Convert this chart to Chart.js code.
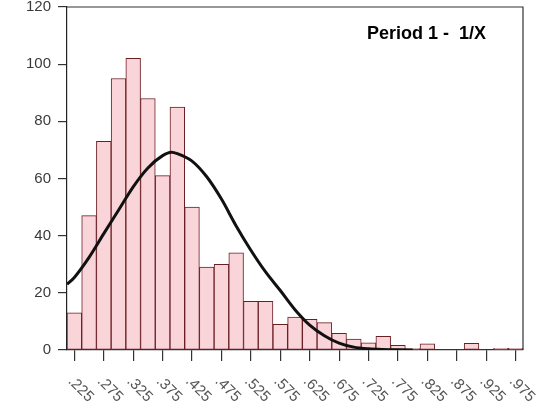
<!DOCTYPE html>
<html>
<head>
<meta charset="utf-8">
<script src="https://cdn.jsdelivr.net/npm/chart.js@4/dist/chart.umd.min.js"></script>
<style>
  html, body { margin: 0; padding: 0; background: #fff; }
  #wrap { width: 545px; height: 403px; position: relative; }
</style>
</head>
<body>
<div id="wrap"><canvas id="hist"></canvas></div>
<script>
// Histogram bins (centres) and counts
const BIN_CENTERS = [0.225, 0.25, 0.275, 0.30, 0.325, 0.35, 0.375, 0.40, 0.425, 0.45,
  0.475, 0.50, 0.525, 0.55, 0.575, 0.60, 0.625, 0.65, 0.675, 0.70,
  0.725, 0.75, 0.775, 0.80, 0.825, 0.85, 0.875, 0.90, 0.925, 0.95, 0.975];
const COUNTS = [13, 47, 73, 95, 102, 88, 61, 85, 50, 29,
  30, 34, 17, 17, 9, 11.5, 10.7, 9.6, 5.8, 3.8,
  2.5, 4.8, 1.6, 0.5, 2.2, 0, 0, 2.3, 0, 0.6, 0.6];

// Fitted curve
const CURVE_X = [0.2125, 0.225, 0.25, 0.275, 0.30, 0.325, 0.35, 0.375, 0.39, 0.40,
  0.425, 0.45, 0.475, 0.50, 0.525, 0.55, 0.575, 0.60, 0.625, 0.65,
  0.675, 0.70, 0.725, 0.75, 0.775, 0.80];
const CURVE_Y = [23, 25.4, 32.4, 40.7, 48.9, 57.1, 63.7, 68.0, 69.2, 68.7,
  66.1, 60.6, 52.8, 43.4, 34.9, 27.3, 20.8, 14.1, 8.7, 5.0,
  2.4, 1.0, 0.4, 0.15, 0.05, 0];

const X_TICKS = [0.225, 0.275, 0.325, 0.375, 0.425, 0.475, 0.525, 0.575,
  0.625, 0.675, 0.725, 0.775, 0.825, 0.875, 0.925, 0.975];
const X_LABELS = ['.225', '.275', '.325', '.375', '.425', '.475', '.525', '.575',
  '.625', '.675', '.725', '.775', '.825', '.875', '.925', '.975'];

const TITLE = 'Period 1 -  1/X';

const FONT = '"Liberation Sans", Arial, Helvetica, sans-serif';

// draws the box, the rotated x labels and the inset title
const decorations = {
  id: 'decorations',
  afterDraw(chart) {
    const { ctx, chartArea: a } = chart;
    const xs = chart.scales.x;
    ctx.save();

    // top / right frame
    ctx.strokeStyle = '#333';
    ctx.lineWidth = 1.2;
    ctx.beginPath();
    ctx.moveTo(a.left, a.top);
    ctx.lineTo(a.right, a.top);
    ctx.lineTo(a.right, a.bottom);
    ctx.stroke();

    // x labels, turned 45deg clockwise
    ctx.fillStyle = '#555';
    ctx.font = '15px ' + FONT;
    ctx.textAlign = 'left';
    ctx.textBaseline = 'middle';
    X_TICKS.forEach((v, i) => {
      const px = xs.getPixelForValue(v);
      ctx.save();
      ctx.translate(px - 4, a.bottom + 29);
      ctx.rotate(Math.PI / 4);
      ctx.fillText(X_LABELS[i], 0, 0);
      ctx.restore();
    });

    // title inside plot
    ctx.fillStyle = '#000';
    ctx.font = 'bold 18px ' + FONT;
    ctx.textAlign = 'left';
    ctx.textBaseline = 'alphabetic';
    ctx.fillText(TITLE, 367, 39);

    ctx.restore();
  }
};

new Chart(document.getElementById('hist'), {
  data: {
    datasets: [
      {
        type: 'line',
        order: 0,
        data: CURVE_X.map((x, i) => ({ x, y: CURVE_Y[i] })),
        borderColor: '#111',
        borderWidth: 3,
        pointRadius: 0,
        tension: 0.4,
        cubicInterpolationMode: 'monotone',
        fill: false,
      },
      {
        type: 'bar',
        order: 1,
        data: BIN_CENTERS.map((x, i) => ({ x, y: COUNTS[i] })),
        backgroundColor: '#f9d4d8',
        borderColor: '#6a1f25',
        borderWidth: 1,
        borderSkipped: false,
        barPercentage: 1,
        categoryPercentage: 1,
      },
    ],
  },
  options: {
    responsive: true,
    maintainAspectRatio: false,
    animation: false,
    layout: { padding: { top: 7, right: 22, left: 0, bottom: 0 } },
    plugins: {
      legend: { display: false },
      tooltip: { enabled: false },
    },
    scales: {
      x: {
        type: 'linear',
        min: 0.2125,
        max: 0.9875,
        offset: false,
        afterBuildTicks: axis => { axis.ticks = X_TICKS.map(v => ({ value: v })); },
        afterFit: axis => { axis.height = 53; axis.paddingLeft = 0; axis.paddingRight = 0; },
        ticks: { display: false },
        grid: { drawOnChartArea: false, offset: false, tickLength: 11, color: '#333', lineWidth: 1.2 },
        border: { display: true, color: '#333', width: 1.2 },
      },
      y: {
        min: 0,
        max: 120,
        afterFit: axis => { axis.width = 67; axis.paddingTop = 0; axis.paddingBottom = 0; },
        ticks: { stepSize: 20, padding: 7, color: '#3a3a3a', font: { size: 15, family: FONT } },
        grid: { drawOnChartArea: false, tickLength: 9, color: '#333', lineWidth: 1.2 },
        border: { display: true, color: '#222', width: 1.2 },
      },
    },
  },
  plugins: [decorations],
});
</script>
</body>
</html>
